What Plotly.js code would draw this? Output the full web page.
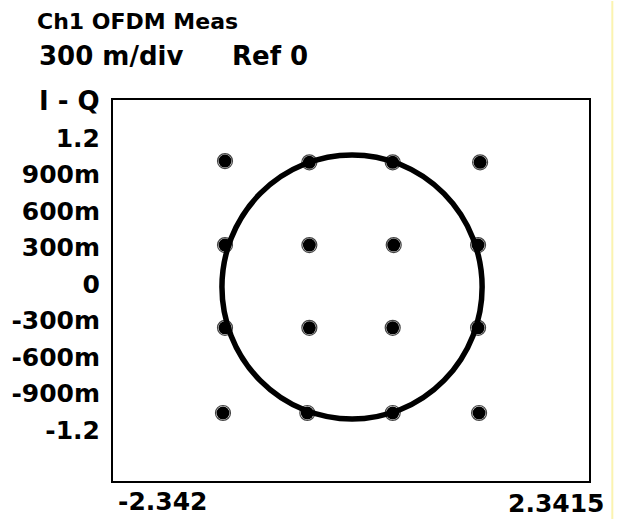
<!DOCTYPE html>
<html>
<head>
<meta charset="utf-8">
<script src="https://cdn.plot.ly/plotly-3.0.1.min.js"></script>
<style>
  html, body { margin: 0; padding: 0; background: #ffffff; }
  #chart { width: 627px; height: 521px; }
</style>
</head>
<body>
<div id="chart"></div>
<script>
// 16-QAM constellation: I (in-phase) and Q (quadrature) of each symbol cluster
const symbolI = [-1.24, -0.41, 0.41, 1.27,
                 -1.24, -0.41, 0.42, 1.25,
                 -1.24, -0.41, 0.41, 1.25,
                 -1.26, -0.43, 0.41, 1.26];
const symbolQ = [1.01, 1.00, 1.00, 1.00,
                 0.32, 0.32, 0.32, 0.32,
                 -0.36, -0.36, -0.36, -0.36,
                 -1.06, -1.06, -1.06, -1.06];

// Ring traced by the pilot / preamble samples: centre and radii
const ringCentre = [0.01, -0.025];
const ringRadius = [1.28, 1.085];

// Axis scaling
const iRange = [-2.342, 2.3415];
const qRange = [-1.619, 1.512];
const qTickVals = [1.2, 0.9, 0.6, 0.3, 0, -0.3, -0.6, -0.9, -1.2];
const qTickText = ['1.2', '900m', '600m', '300m', '0', '-300m', '-600m', '-900m', '-1.2'];
const iEndLabels = ['-2.342', '2.3415'];

const font = 'DejaVu Sans, Liberation Sans, Arial, sans-serif';

const traces = [
  {
    x: symbolI, y: symbolQ, type: 'scatter', mode: 'markers',
    marker: { symbol: 'circle-open', size: 15, color: '#444', line: { width: 1.2, color: '#444' } },
    hoverinfo: 'skip', showlegend: false
  },
  {
    x: symbolI, y: symbolQ, type: 'scatter', mode: 'markers',
    marker: { symbol: 'circle', size: 13, color: '#000000' },
    showlegend: false
  }
];

const layout = {
  width: 627, height: 521,
  margin: { l: 113, r: 38, t: 100, b: 40, pad: 0 },
  paper_bgcolor: '#ffffff', plot_bgcolor: '#ffffff',
  showlegend: false,
  title: {
    text: 'Ch1 OFDM Meas',
    font: { family: font, size: 22, color: '#000', weight: 'bold' },
    x: 37 / 627, xanchor: 'left', xref: 'container',
    y: 1 - 21 / 521, yanchor: 'middle', yref: 'container'
  },
  xaxis: {
    range: iRange, showticklabels: false, ticks: '',
    showgrid: false, zeroline: false,
    showline: true, mirror: true, linecolor: '#000', linewidth: 2
  },
  yaxis: {
    range: qRange, tickmode: 'array', tickvals: qTickVals, ticktext: qTickText,
    tickfont: { family: font, size: 25, color: '#000', weight: 'bold' },
    ticks: '', ticklabelstandoff: 6,
    showgrid: false, zeroline: false,
    showline: true, mirror: true, linecolor: '#000', linewidth: 2
  },
  shapes: [
    {
      type: 'circle', xref: 'x', yref: 'y',
      x0: ringCentre[0] - ringRadius[0], x1: ringCentre[0] + ringRadius[0],
      y0: ringCentre[1] - ringRadius[1], y1: ringCentre[1] + ringRadius[1],
      line: { color: '#000', width: 5.5 }
    },
    {
      type: 'line', xref: 'paper', yref: 'paper',
      x0: 1.049, x1: 1.049, y0: -0.1, y1: 1.26,
      line: { color: '#fbf3b0', width: 2 }
    }
  ],
  annotations: [
    { text: '300 m/div', xref: 'paper', yref: 'paper', x: (37 - 113) / 476, y: (481 - 56) / 381,
      xanchor: 'left', yanchor: 'middle', showarrow: false,
      font: { family: font, size: 26, color: '#000', weight: 'bold' } },
    { text: 'Ref 0', xref: 'paper', yref: 'paper', x: (230 - 113) / 476, y: (481 - 56) / 381,
      xanchor: 'left', yanchor: 'middle', showarrow: false,
      font: { family: font, size: 26, color: '#000', weight: 'bold' } },
    { text: 'I - Q', xref: 'paper', yref: 'paper', x: (37 - 113) / 476, y: (481 - 101) / 381,
      xanchor: 'left', yanchor: 'middle', showarrow: false,
      font: { family: font, size: 26, color: '#000', weight: 'bold' } },
    { text: iEndLabels[0], xref: 'paper', yref: 'paper', x: (116 - 113) / 476, y: (481 - 501) / 381,
      xanchor: 'left', yanchor: 'middle', showarrow: false,
      font: { family: font, size: 25, color: '#000', weight: 'bold' } },
    { text: iEndLabels[1], xref: 'paper', yref: 'paper', x: (606 - 113) / 476, y: (481 - 503) / 381,
      xanchor: 'right', yanchor: 'middle', showarrow: false,
      font: { family: font, size: 25, color: '#000', weight: 'bold' } }
  ]
};

Plotly.newPlot('chart', traces, layout, { staticPlot: true, displayModeBar: false });
</script>
</body>
</html>
